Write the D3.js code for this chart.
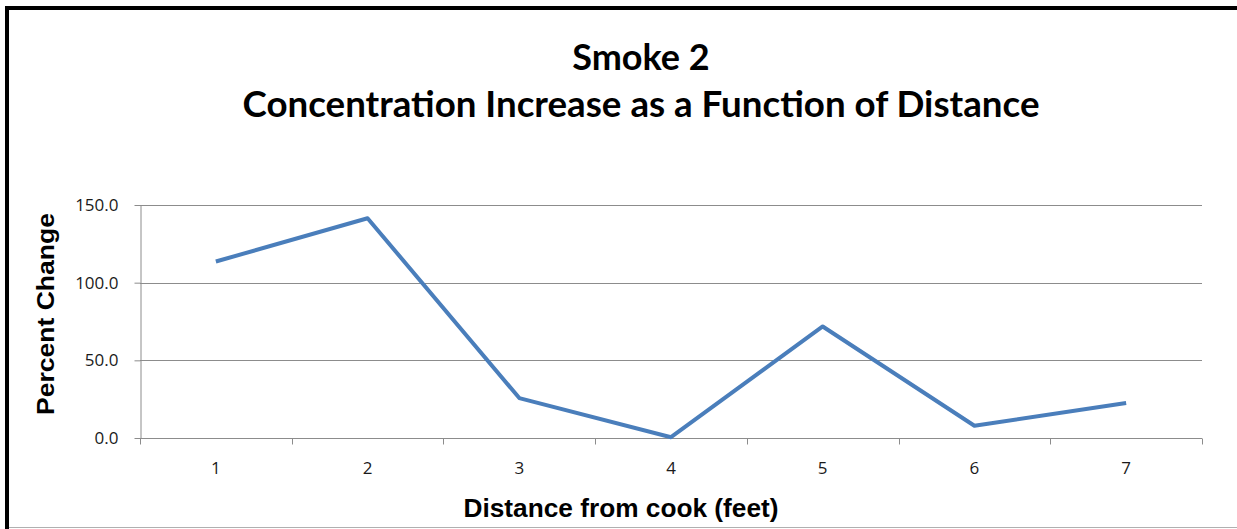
<!DOCTYPE html>
<html lang="en">
<head>
  <meta charset="utf-8" />
  <title>Smoke 2</title>
  <script src="https://cdn.jsdelivr.net/npm/d3@7"></script>
  <style>
    html, body { margin: 0; padding: 0; background: #fff; }
  </style>
</head>
<body>
  <div id="chart"></div>
  <script>
    // data
    const distances = ["1", "2", "3", "4", "5", "6", "7"];
    const percentChange = [113.6, 141.5, 25.7, 0.5, 71.8, 7.9, 22.5];
    const yTicks = [0, 50, 100, 150];

    const width = 1237;
    const height = 529;
    const marginLeft = 140;
    const marginRight = 35;
    const marginTop = 205;
    const marginBottom = 91;

    const svg = d3.select("#chart")
      .append("svg")
      .attr("width", width)
      .attr("height", height)
      .attr("viewBox", [0, 0, width, height]);

    // frame: thick black left/top edge, thin grey bottom edge
    svg.append("path")
      .attr("d", `M7,${height} V8 H${width}`)
      .attr("fill", "none")
      .attr("stroke", "#000")
      .attr("stroke-width", 4);
    svg.append("line")
      .attr("x1", 9).attr("x2", width)
      .attr("y1", 527.5).attr("y2", 527.5)
      .attr("stroke", "#b0b0b0")
      .attr("stroke-width", 1);

    const x = d3.scaleBand()
      .domain(distances)
      .range([marginLeft, width - marginRight]);

    const y = d3.scaleLinear()
      .domain([0, 150])
      .range([height - marginBottom, marginTop]);

    // gridlines
    svg.append("g")
      .selectAll("line")
      .data(yTicks.filter(d => d > 0))
      .join("line")
      .attr("x1", marginLeft)
      .attr("x2", width - marginRight)
      .attr("y1", d => Math.round(y(d)) + 0.5)
      .attr("y2", d => Math.round(y(d)) + 0.5)
      .attr("stroke", "#8c8c8c")
      .attr("stroke-width", 1);

    // y axis
    const yAxis = svg.append("g")
      .attr("transform", `translate(${marginLeft + 0.5},0)`)
      .call(d3.axisLeft(y).tickValues(yTicks).tickFormat(d3.format(".1f")).tickSize(6).tickPadding(16).tickSizeOuter(0));
    yAxis.selectAll(".domain, .tick line").attr("stroke", "#8c8c8c");
    yAxis.selectAll(".tick text")
      .attr("fill", "#1a1a1a")
      .style("font", "17px 'Open Sans', sans-serif");

    // x axis with ticks between categories
    const xAxisG = svg.append("g")
      .attr("transform", `translate(0,${Math.round(y(0)) + 0.5})`);
    xAxisG.append("line")
      .attr("x1", marginLeft).attr("x2", width - marginRight)
      .attr("stroke", "#8c8c8c");
    const bounds = distances.map(d => x(d)).concat([x(distances[distances.length - 1]) + x.bandwidth()]);
    xAxisG.selectAll("line.tick")
      .data(bounds)
      .join("line")
      .attr("class", "tick")
      .attr("x1", d => Math.round(d) + 0.5)
      .attr("x2", d => Math.round(d) + 0.5)
      .attr("y1", 0).attr("y2", 6)
      .attr("stroke", "#8c8c8c");
    xAxisG.selectAll("text")
      .data(distances)
      .join("text")
      .attr("x", d => x(d) + x.bandwidth() / 2)
      .attr("y", 35)
      .attr("text-anchor", "middle")
      .attr("fill", "#1a1a1a")
      .style("font", "17px 'Open Sans', sans-serif")
      .text(d => d);

    // series line
    const line = d3.line()
      .x((d, i) => x(distances[i]) + x.bandwidth() / 2)
      .y(d => y(d));

    svg.append("path")
      .datum(percentChange)
      .attr("fill", "none")
      .attr("stroke", "#4a7ebb")
      .attr("stroke-width", 4)
      .attr("stroke-linejoin", "round")
      .attr("d", line);

    // titles
    svg.append("text")
      .attr("x", 641).attr("y", 70)
      .attr("text-anchor", "middle")
      .style("font", "bold 36px Lato, sans-serif")
      .text("Smoke 2");
    svg.append("text")
      .attr("x", 641).attr("y", 117)
      .attr("text-anchor", "middle")
      .attr("textLength", 797)
      .attr("lengthAdjust", "spacingAndGlyphs")
      .style("font", "bold 36px Lato, sans-serif")
      .text("Concentration Increase as a Function of Distance");

    svg.append("text")
      .attr("transform", "translate(54,314) rotate(-90)")
      .attr("text-anchor", "middle")
      .attr("textLength", 202)
      .attr("lengthAdjust", "spacingAndGlyphs")
      .style("font", "bold 24px 'Liberation Sans', Arial, sans-serif")
      .text("Percent Change");

    svg.append("text")
      .attr("x", 621).attr("y", 517)
      .attr("text-anchor", "middle")
      .attr("textLength", 315)
      .attr("lengthAdjust", "spacingAndGlyphs")
      .style("font", "bold 25px 'Liberation Sans', Arial, sans-serif")
      .text("Distance from cook (feet)");
  </script>
</body>
</html>
